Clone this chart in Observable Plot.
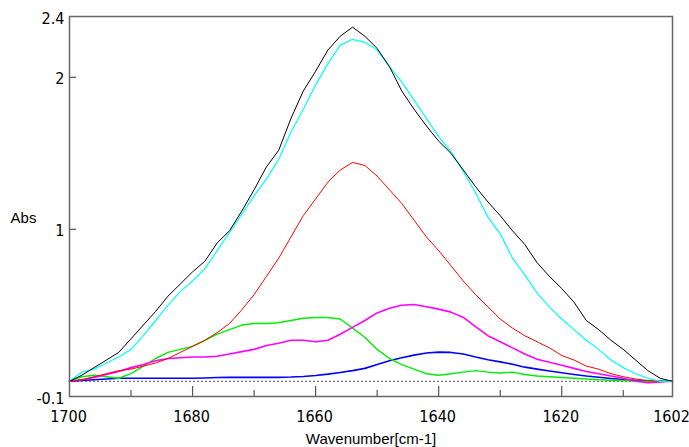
<!DOCTYPE html>
<html>
<head>
<meta charset="utf-8">
<script src="https://cdn.jsdelivr.net/npm/d3@7"></script>
<script src="https://cdn.jsdelivr.net/npm/@observablehq/plot@0.6"></script>
<style>
  html, body { margin: 0; padding: 0; background: #fff; }
  #chart { width: 689px; height: 447px; }
</style>
</head>
<body>
<div id="chart"></div>
<script>
const wavenumbers = [1700,1698,1696,1694,1692,1690,1688,1686,1684,1682,1680,1678,1676,1674,1672,1670,1668,1666,1664,1662,1660,1658,1656,1654,1652,1650,1648,1646,1644,1642,1640,1638,1636,1634,1632,1630,1628,1626,1624,1622,1620,1618,1616,1614,1612,1610,1608,1606,1604,1602];

const totalAbs = [0.00,0.04,0.09,0.14,0.19,0.28,0.37,0.46,0.56,0.64,0.72,0.79,0.91,0.99,1.12,1.26,1.41,1.52,1.73,1.91,2.04,2.18,2.27,2.33,2.27,2.19,2.07,1.91,1.79,1.68,1.58,1.50,1.39,1.28,1.18,1.09,0.99,0.90,0.78,0.69,0.61,0.52,0.40,0.34,0.27,0.21,0.14,0.07,0.02,0.00];
const fitSum = [0.00,0.06,0.08,0.12,0.16,0.21,0.30,0.40,0.50,0.59,0.66,0.74,0.86,0.98,1.10,1.22,1.33,1.46,1.64,1.79,1.95,2.09,2.21,2.25,2.23,2.18,2.07,1.97,1.85,1.73,1.61,1.51,1.38,1.24,1.08,0.97,0.81,0.70,0.58,0.49,0.41,0.34,0.27,0.21,0.14,0.09,0.05,0.02,0.00,0.00];
const band1654 = [0.00,0.01,0.03,0.05,0.07,0.08,0.10,0.12,0.15,0.19,0.23,0.27,0.32,0.38,0.47,0.57,0.69,0.81,0.95,1.09,1.20,1.31,1.39,1.44,1.42,1.35,1.26,1.17,1.06,0.95,0.86,0.76,0.66,0.57,0.49,0.41,0.35,0.30,0.26,0.22,0.17,0.14,0.10,0.08,0.05,0.03,0.015,0.005,0.00,0.00];
const band1660 = [0.00,0.03,0.04,0.03,0.02,0.05,0.10,0.15,0.19,0.21,0.23,0.27,0.31,0.34,0.37,0.38,0.38,0.385,0.40,0.415,0.42,0.42,0.41,0.35,0.29,0.21,0.15,0.11,0.08,0.05,0.04,0.05,0.06,0.07,0.06,0.055,0.06,0.045,0.035,0.03,0.025,0.02,0.015,0.01,0.007,0.005,0.00,0.00,0.00,0.00];
const band1645 = [0.00,0.01,0.025,0.045,0.065,0.09,0.11,0.135,0.15,0.155,0.16,0.16,0.165,0.18,0.195,0.21,0.235,0.25,0.27,0.27,0.26,0.27,0.31,0.355,0.40,0.45,0.48,0.50,0.505,0.49,0.475,0.455,0.42,0.36,0.30,0.26,0.22,0.18,0.145,0.125,0.105,0.085,0.065,0.05,0.035,0.02,0.00,-0.01,-0.005,0.00];
const band1640 = [0.00,0.005,0.01,0.015,0.02,0.02,0.02,0.02,0.02,0.02,0.02,0.022,0.025,0.026,0.026,0.026,0.026,0.026,0.028,0.032,0.038,0.047,0.058,0.07,0.085,0.11,0.135,0.155,0.172,0.186,0.192,0.19,0.18,0.16,0.142,0.128,0.112,0.093,0.08,0.068,0.056,0.045,0.035,0.027,0.018,0.012,0.006,0.002,0.00,0.00];

const xTickLabels = [1700, 1680, 1660, 1640, 1620, 1602];
const xMajorTicks = [1680, 1660, 1640, 1620];
const xMinorTicks = [1690, 1670, 1650, 1630, 1610];
const yTickLabels = [2.4, 2, 1, -0.1];
const yInnerTicks = [2, 1];

const seriesDefs = [
  {values: band1640, color: "#0000ff", width: 1.6},
  {values: band1660, color: "#00ee00", width: 1.4},
  {values: band1645, color: "#ff00ff", width: 1.6},
  {values: band1654, color: "#ff0000", width: 1},
  {values: fitSum,   color: "#00ffff", width: 1.2},
  {values: totalAbs, color: "#000000", width: 1}
];

const lineMarks = seriesDefs.map(s =>
  Plot.line(wavenumbers.map((w, i) => ({w, v: s.values[i]})), {
    x: "w", y: "v", stroke: s.color, strokeWidth: s.width, curve: "linear"
  })
);

const tickFont = "'Liberation Sans Narrow', 'Arial Narrow', 'DejaVu Sans Condensed', sans-serif";

const chart = Plot.plot({
  width: 689,
  height: 447,
  marginLeft: 69,
  marginRight: 17,
  marginTop: 16,
  marginBottom: 51,
  style: {fontFamily: "'Liberation Sans', Arial, sans-serif", fontSize: "15px", background: "#fff", color: "#000"},
  x: {domain: [1700, 1602]},
  y: {domain: [-0.1, 2.4]},
  marks: [
    Plot.ruleY([0], {stroke: "#555", strokeWidth: 1, strokeDasharray: "2,2"}),
    ...lineMarks,
    Plot.tickX(xMajorTicks, {x: d => d, insetTop: 370, stroke: "#555", strokeWidth: 1.2}),
    Plot.tickX(xMinorTicks, {x: d => d, insetTop: 374, stroke: "#555", strokeWidth: 1.2}),
    Plot.tickY(yInnerTicks, {y: d => d, insetRight: 596, stroke: "#555", strokeWidth: 1.2}),
    Plot.frame({stroke: "#666", strokeWidth: 1.5}),
    Plot.axisX({ticks: xTickLabels, tickSize: 0, tickPadding: 14, tickFormat: d => String(d), label: null, fontSize: 16, fontFamily: tickFont, dx: -1}),
    Plot.axisY({ticks: yTickLabels, tickSize: 0, tickPadding: 5, tickFormat: d => String(d), label: null, fontSize: 16, fontFamily: tickFont, dy: 2}),
    Plot.text(["Wavenumber[cm-1]"], {frameAnchor: "bottom", dy: 43, lineAnchor: "middle", fontSize: 15}),
    Plot.text(["Abs"], {frameAnchor: "left", dx: -46, dy: 12, textAnchor: "middle", lineAnchor: "middle", fontSize: 15})
  ]
});
document.getElementById("chart").appendChild(chart);
</script>
</body>
</html>
